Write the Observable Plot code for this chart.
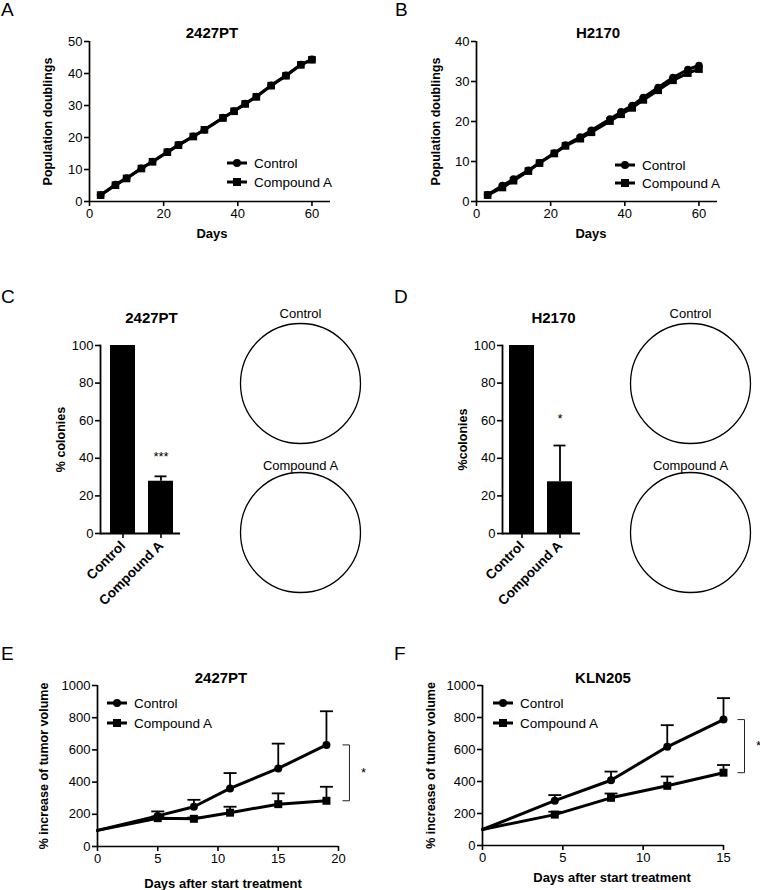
<!DOCTYPE html>
<html><head><meta charset="utf-8">
<script src="https://cdn.jsdelivr.net/npm/d3@7"></script>
<script src="https://cdn.jsdelivr.net/npm/@observablehq/plot@0.6"></script>
<style>
body{margin:0;background:#fff;font-family:"Liberation Sans",Arial,Helvetica,sans-serif;}
#fig{position:relative;width:760px;height:890px;overflow:hidden;background:#fff;}
.letter{position:absolute;font-size:19px;line-height:19px;color:#000;}
</style></head><body><div id="fig"></div>
<script>
// ---------------- DATA ----------------
const seriesNames = ["Control", "Compound A"];

// A / B : population doublings
const growthDays = [3,7,10,14,17,21,24,28,31,36,39,42,45,49,53,57,60];
const growthXTicks = [0,20,40,60];
const pdA_control  = [2.0,5.3,7.3,10.4,12.5,15.5,17.7,20.4,22.4,26.2,28.3,30.6,32.8,36.3,39.4,42.8,44.4];
const pdA_compound = [2.0,5.1,7.2,10.3,12.4,15.4,17.6,20.3,22.4,26.1,28.2,30.5,32.7,36.2,39.3,42.7,44.3];
const pdA_yTicks = [0,10,20,30,40,50];
const pdB_control  = [1.7,4.0,5.6,7.8,9.7,12.1,14.1,16.1,17.8,20.6,22.4,24.0,26.0,28.5,31.0,33.0,34.0];
const pdB_compound = [1.6,3.5,5.2,7.6,9.6,12.0,13.9,15.7,17.3,20.1,21.8,23.4,25.4,27.8,30.3,32.1,33.1];
const pdB_yTicks = [0,10,20,30,40];

// C / D : % colonies
const colonyGroups = ["Control", "Compound A"];
const colC_values = [100, 27.8];
const colC_err    = [0, 2.6];
const colC_sig    = ["", "***"];
const colD_values = [100, 27.5];
const colD_err    = [0, 19.3];
const colD_sig    = ["", "*"];
const colonyYTicks = [0,20,40,60,80,100];
const plateLabels = ["Control", "Compound A"];

// E / F : tumor volume
const daysE = [0,5,8,11,15,19];
const tumE_control     = [100,190,247,361,485,631];
const tumE_controlErr  = [0,28,43,95,154,209];
const tumE_compound    = [100,176,172,210,263,284];
const tumE_compoundErr = [0,10,8,37,67,87];
const daysE_ticks = [0,5,10,15,20];
const daysF = [0,4.5,8,11.5,15];
const tumF_control     = [100,280,408,617,787];
const tumF_controlErr  = [0,35,54,135,134];
const tumF_compound    = [100,193,298,373,455];
const tumF_compoundErr = [0,18,27,58,48];
const daysF_ticks = [0,5,10,15];
const tumorYTicks = [0,200,400,600,800,1000];

// ---------------- HELPERS ----------------
const FONT = "'Liberation Sans', Arial, Helvetica, sans-serif";
const fig = document.getElementById("fig");
const hbar = {draw(ctx, size){ const r = Math.sqrt(size/Math.PI); ctx.moveTo(-r,0); ctx.lineTo(r,0); }};
const fmt = d => String(d);
function style(){ return {fontFamily: FONT, fontSize: "13px", color: "black", background: "transparent", overflow: "visible"}; }
function place(node, left, top){ node.style.position = "absolute"; node.style.left = left+"px"; node.style.top = top+"px"; fig.appendChild(node); return node; }
function letter(t, left, top){ const d = document.createElement("div"); d.className = "letter"; d.textContent = t; d.style.left = left+"px"; d.style.top = top+"px"; fig.appendChild(d); }
function legend(left, top, gap){
  const y1 = 8, y2 = 8 + gap;
  const html = `<svg xmlns="http://www.w3.org/2000/svg" width="130" height="${gap+18}" style="overflow:visible">
    <line x1="0" x2="20" y1="${y1}" y2="${y1}" stroke="black" stroke-width="3"/>
    <circle cx="10" cy="${y1}" r="4" fill="black"/>
    <text x="27" y="${y1}" dy="0.36em" font-size="13.5" font-family="${FONT}">${seriesNames[0]}</text>
    <line x1="0" x2="20" y1="${y2}" y2="${y2}" stroke="black" stroke-width="3"/>
    <rect x="6" y="${y2-4}" width="8" height="8" fill="black"/>
    <text x="27" y="${y2}" dy="0.36em" font-size="13.5" font-family="${FONT}">${seriesNames[1]}</text></svg>`;
  const d = document.createElement("div"); d.innerHTML = html; place(d, left, top);
}
const txt = d => d;
const lab = {textAnchor: "middle", lineAnchor: "middle"};

function growthChart(c){
  const ctrl = growthDays.map((d,i)=>({day:d, value:c.ctrl[i]}));
  const comp = growthDays.map((d,i)=>({day:d, value:c.comp[i]}));
  return Plot.plot({
    width: c.width, height: c.height,
    marginLeft: c.mL, marginRight: c.mR, marginTop: c.mT, marginBottom: c.mB,
    style: style(),
    x: {domain: [0,65], label: null},
    y: {domain: [0, c.yTicks[c.yTicks.length-1]], label: null},
    marks: [
      Plot.axisY({ticks: c.yTicks, tickFormat: fmt, tickSize: 5, tickPadding: 2, strokeWidth: 1.6, label: null}),
      Plot.axisX({ticks: growthXTicks, tickFormat: fmt, tickSize: 5, tickPadding: 2, strokeWidth: 1.6, label: null}),
      Plot.ruleX([0], {strokeWidth: 1.7}),
      Plot.ruleY([0], {strokeWidth: 1.7}),
      Plot.line(ctrl, {x: "day", y: "value", strokeWidth: 3}),
      Plot.line(comp, {x: "day", y: "value", strokeWidth: 3}),
      Plot.dot(ctrl, {x: "day", y: "value", r: 3.8, fill: "black", symbol: "circle"}),
      Plot.dot(comp, {x: "day", y: "value", r: 4.3, fill: "black", symbol: "square"}),
      Plot.text([c.title], {...lab, text: txt, frameAnchor: "top", dx: c.titleDx, dy: -8, fontWeight: "bold", fontSize: 15}),
      Plot.text([c.yLabel], {...lab, text: txt, frameAnchor: "left", rotate: -90, dx: c.yLabelDx, fontWeight: "bold", fontSize: 12.5}),
      Plot.text([c.xLabel], {...lab, text: txt, frameAnchor: "bottom", dy: 32, dx: c.xLabelDx, fontWeight: "bold", fontSize: 13})
    ]
  });
}

function colonyChart(c){
  const data = colonyGroups.map((g,i)=>({group:g, value:c.values[i], err:c.err[i], sig:c.sig[i]}));
  const withErr = data.filter(d=>d.err>0);
  const svg = Plot.plot({
    width: c.width, height: c.height,
    marginLeft: c.mL, marginRight: c.mR, marginTop: c.mT, marginBottom: c.mB,
    style: style(),
    x: {type: "band", domain: colonyGroups, paddingInner: 0.33, paddingOuter: c.po, align: c.align, label: null},
    y: {domain: [0,100], label: null},
    marks: [
      Plot.barY(data, {x: "group", y: "value", fill: "black"}),
      Plot.ruleX(withErr, {x: "group", y1: "value", y2: d=>d.value+d.err, strokeWidth: 1.8}),
      Plot.tickY(withErr, {x: "group", y: d=>d.value+d.err, insetLeft: 6.5, insetRight: 6.5, strokeWidth: 1.8}),
      Plot.text(data.filter(d=>d.sig), {x: "group", y: d=>d.value+d.err, text: "sig", dy: c.sigDy, fontSize: 13}),
      Plot.axisY({ticks: colonyYTicks, tickFormat: fmt, tickSize: 5, tickPadding: 2, strokeWidth: 1.6, label: null}),
      Plot.axisX({tickSize: 5, tickPadding: 5, tickRotate: -45, strokeWidth: 1.6, label: null, fontWeight: "bold", fontSize: 13.5}),
      Plot.frame({anchor: "left", strokeWidth: 1.8}),
      Plot.ruleY([0], {strokeWidth: 1.8}),
      Plot.text([c.title], {...lab, text: txt, frameAnchor: "top", dx: c.titleDx, dy: -27, fontWeight: "bold", fontSize: 15}),
      Plot.text([c.yLabel], {...lab, text: txt, frameAnchor: "left", rotate: -90, dx: -40, fontWeight: "bold", fontSize: 12.5})
    ]
  });
  svg.querySelectorAll('[aria-label="x-axis tick label"] text').forEach(t=>{t.setAttribute("font-weight","bold"); t.setAttribute("font-size","13.5");});
  return svg;
}

function plate(label, labelDy){
  return Plot.plot({
    width: 140, height: 150, margin: 0, style: style(),
    marks: [
      Plot.dot([label], {frameAnchor: "middle", r: 60, stroke: "black", strokeWidth: 1.3, fill: "white"}),
      Plot.text([label], {...lab, text: txt, frameAnchor: "top", dy: labelDy, fontSize: 13})
    ]
  });
}

function tumorChart(c){
  const mk = (vals, errs) => c.days.map((d,i)=>({day:d, value:vals[i], err:errs[i]}));
  const ctrl = mk(c.ctrl, c.ctrlErr), comp = mk(c.comp, c.compErr);
  const n = c.days.length - 1;
  const last = [{day: c.days[n], top: c.ctrl[n], bottom: c.comp[n]}];
  const ends = [{day: c.days[n], v: c.ctrl[n]}, {day: c.days[n], v: c.comp[n]}];
  const errMarks = s => [
    Plot.ruleX(s.filter(d=>d.err>0), {x: "day", y1: "value", y2: d=>d.value+d.err, strokeWidth: 1.8}),
    Plot.dot(s.filter(d=>d.err>0), {x: "day", y: d=>d.value+d.err, symbol: hbar, r: 6.5, stroke: "black", strokeWidth: 1.8})
  ];
  return Plot.plot({
    width: c.width, height: c.height,
    marginLeft: c.mL, marginRight: c.mR, marginTop: c.mT, marginBottom: c.mB,
    style: style(),
    x: {domain: [0, c.xTicks[c.xTicks.length-1]], label: null},
    y: {domain: [0,1000], label: null},
    marks: [
      Plot.axisY({ticks: tumorYTicks, tickFormat: fmt, tickSize: 5, tickPadding: 2, strokeWidth: 1.6, label: null}),
      Plot.axisX({ticks: c.xTicks, tickFormat: fmt, tickSize: 5, tickPadding: 2, strokeWidth: 1.6, label: null}),
      Plot.ruleX([0], {strokeWidth: 1.7}),
      Plot.ruleY([0], {strokeWidth: 1.7}),
      ...errMarks(ctrl), ...errMarks(comp),
      Plot.line(ctrl, {x: "day", y: "value", strokeWidth: 3}),
      Plot.line(comp, {x: "day", y: "value", strokeWidth: 3}),
      Plot.dot(ctrl.filter(d=>d.day>0), {x: "day", y: "value", r: 4, fill: "black", symbol: "circle"}),
      Plot.dot(comp.filter(d=>d.day>0), {x: "day", y: "value", r: 4.5, fill: "black", symbol: "square"}),
      Plot.link(last, {x1: "day", x2: "day", y1: "top", y2: "bottom", dx: c.bracketDx, stroke: "#222", strokeWidth: 1}),
      Plot.dot(ends, {x: "day", y: "v", symbol: hbar, r: 3.5, dx: c.bracketDx-3.5, stroke: "#222", strokeWidth: 1}),
      Plot.text(last, {x: "day", y: d=>(d.top+d.bottom)/2, text: ()=>"*", dx: c.starDx, fontSize: 13}),
      Plot.text([c.title], {...lab, text: txt, frameAnchor: "top", dx: c.titleDx, dy: -7, fontWeight: "bold", fontSize: 15}),
      Plot.text([c.yLabel], {...lab, text: txt, frameAnchor: "left", rotate: -90, dx: c.yLabelDx, fontWeight: "bold", fontSize: 12.5}),
      Plot.text([c.xLabel], {...lab, text: txt, frameAnchor: "bottom", dy: c.xLabelDy, dx: c.xLabelDx, fontWeight: "bold", fontSize: 13})
    ]
  });
}

// ---------------- BUILD ----------------
// A
place(growthChart({width: 370, height: 250, mL: 89, mR: 40, mT: 41, mB: 49,
  ctrl: pdA_control, comp: pdA_compound, yTicks: pdA_yTicks, title: "2427PT",
  yLabel: "Population doublings", xLabel: "Days", titleDx: 2, yLabelDx: -42, xLabelDx: 2}), 0, 0);
legend(227, 155, 19);
letter("A", 1, 0);
// B
place(growthChart({width: 370, height: 250, mL: 96, mR: 33, mT: 41, mB: 49,
  ctrl: pdB_control, comp: pdB_compound, yTicks: pdB_yTicks, title: "H2170",
  yLabel: "Population doublings", xLabel: "Days", titleDx: 1, yLabelDx: -41, xLabelDx: -6}), 380, 0);
legend(615, 157, 18);
letter("B", 395, 0);
// C
place(colonyChart({width: 200, height: 370, mL: 100, mR: 20, mT: 95, mB: 87, po: 0.2, align: 0.6,
  values: colC_values, err: colC_err, sig: colC_sig, sigDy: -20, title: "2427PT", titleDx: 11, yLabel: "% colonies"}), 0, 250);
place(plate(plateLabels[0], 5), 230, 308);
place(plate(plateLabels[1], 8), 230, 457);
letter("C", 1, 287);
// D
place(colonyChart({width: 210, height: 370, mL: 122, mR: 10, mT: 95, mB: 87, po: 0.17, align: 0.5,
  values: colD_values, err: colD_err, sig: colD_sig, sigDy: -27, title: "H2170", titleDx: 12, yLabel: "%colonies"}), 380, 250);
place(plate(plateLabels[0], 5), 620, 308);
place(plate(plateLabels[1], 8), 620, 457);
letter("D", 394, 287);
// E
place(tumorChart({width: 380, height: 330, mL: 97, mR: 42, mT: 125, mB: 44,
  days: daysE, ctrl: tumE_control, ctrlErr: tumE_controlErr, comp: tumE_compound, compErr: tumE_compoundErr,
  xTicks: daysE_ticks, title: "2427PT", titleDx: 3, yLabel: "% increase of tumor volume", yLabelDx: -54,
  xLabel: "Days after start treatment", xLabelDy: 37, xLabelDx: 5, bracketDx: 23, starDx: 37}), 0, 560);
legend(107, 695, 20);
letter("E", 1, 644);
// F
place(tumorChart({width: 380, height: 330, mL: 102, mR: 37, mT: 125, mB: 45,
  days: daysF, ctrl: tumF_control, ctrlErr: tumF_controlErr, comp: tumF_compound, compErr: tumF_compoundErr,
  xTicks: daysF_ticks, title: "KLN205", titleDx: 0, yLabel: "% increase of tumor volume", yLabelDx: -52,
  xLabel: "Days after start treatment", xLabelDy: 32, xLabelDx: 9, bracketDx: 21, starDx: 35}), 380, 560);
legend(493, 695, 20);
letter("F", 394, 644);
</script></body></html>
